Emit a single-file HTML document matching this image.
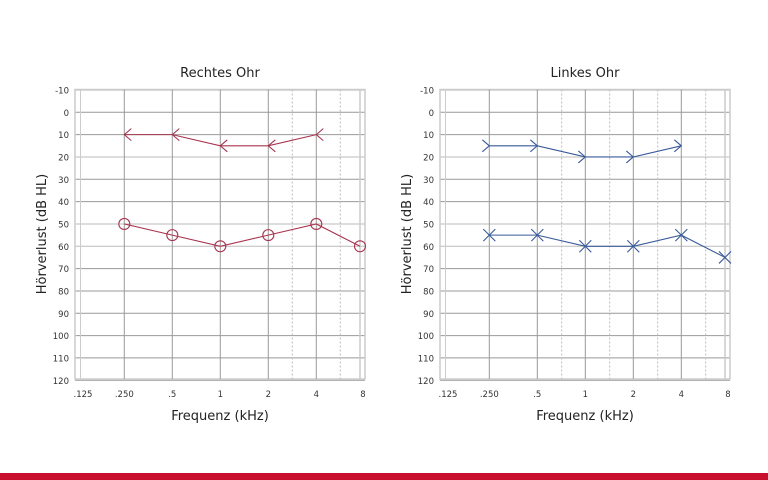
<!DOCTYPE html>
<html><head><meta charset="utf-8"><style>
html,body{margin:0;padding:0;background:#fff;width:768px;height:480px;overflow:hidden}
svg{display:block;font-family:"DejaVu Sans","Liberation Sans",sans-serif}
</style></head><body>
<svg id="s" width="768" height="480" viewBox="0 0 768 480" xmlns="http://www.w3.org/2000/svg">
<rect x="0" y="473" width="768" height="7" fill="#c8102e"/>
</svg>
<script>
const s=document.getElementById('s');const NS='http://www.w3.org/2000/svg';
function el(t,a,txt){const e=document.createElementNS(NS,t);for(const k in a)e.setAttribute(k,a[k]);if(txt!==undefined)e.textContent=txt;s.appendChild(e);return e;}
const Y=v=>112.3+v*2.233;
function chart(ox,title,col,top,bot,sym){
  const L=ox+75,R=ox+365,T=89.5,B=379;
  for(let v=-10;v<=120;v+=10){el('line',{x1:L,x2:R,y1:Y(v),y2:Y(v),stroke:(v==20||v==50||v==60)?'#bbb':'#999','stroke-width':1});
    el('text',{x:ox+69,y:Y(v)+3.5,'text-anchor':'end','font-size':8.5,fill:'#333'},v);}
  el('rect',{x:L,y:T,width:R-L,height:B-T,fill:'none',stroke:'#ccc','stroke-width':1.5});
  el('line',{x1:L+5.5,x2:L+5.5,y1:T,y2:B,stroke:'#ccc'});
  el('line',{x1:R-5,x2:R-5,y1:T,y2:B,stroke:'#ccc','stroke-width':1.5});
  const xs={'.250':124.3,'.5':172.3,'1':220.3,'2':268.3,'4':316.3};
  for(const k in xs)el('line',{x1:ox+xs[k],x2:ox+xs[k],y1:T,y2:B,stroke:'#999'});
  const dash=ox==0?[292.3,340.3]:[196.7,244.7,292.7,340.7];
  dash.forEach(x=>el('line',{x1:ox+x,x2:ox+x,y1:T,y2:B,stroke:'#bbb','stroke-dasharray':'2,2'}));
  const lab=[['.125',83],['.250',124.3],['.5',172.3],['1',220.3],['2',268.3],['4',316.3],['8',363]];
  lab.forEach(([t,x])=>el('text',{x:ox+x,y:397,'text-anchor':'middle','font-size':8.5,fill:'#333'},t));
  el('text',{x:ox+220,y:420,'text-anchor':'middle','font-size':13,fill:'#222'},'Frequenz (kHz)');
  el('text',{x:ox+220,y:77,'text-anchor':'middle','font-size':13,fill:'#222'},title);
  el('text',{transform:`translate(${ox+46},234) rotate(-90)`,'text-anchor':'middle','font-size':13,fill:'#222'},'Hörverlust (dB HL)');
  const px=[124.3,172.3,220.3,268.3,316.3,360];
  function series(vals,kind){
    const pts=vals.map((v,i)=>[ox+px[i],Y(v)]);
    el('polyline',{points:pts.map(p=>p.join(',')).join(' '),fill:'none',stroke:col,'stroke-width':1.1});
    pts.forEach(([x,y])=>{
      if(kind=='o')el('circle',{cx:x,cy:y,r:5.5,fill:'none',stroke:col,'stroke-width':1.1});
      else if(kind=='x')el('path',{d:`M${x-6},${y-6}L${x+6},${y+6}M${x-6},${y+6}L${x+6},${y-6}`,stroke:col,'stroke-width':1.1,fill:'none'});
      else if(kind=='<')el('path',{d:`M${x+7},${y-6}L${x},${y}L${x+7},${y+6}`,stroke:col,'stroke-width':1.1,fill:'none'});
      else el('path',{d:`M${x-7},${y-6}L${x},${y}L${x-7},${y+6}`,stroke:col,'stroke-width':1.1,fill:'none'});
    });
  }
  series(top,sym);
  series(bot,sym=='<'?'o':'x');
}
chart(0,'Rechtes Ohr','#a8344f',[10,10,15,15,10],[50,55,60,55,50,60],'<');
chart(365,'Linkes Ohr','#3a5a9a',[15,15,20,20,15],[55,55,60,60,55,65],'>');
</script>
</body></html>
